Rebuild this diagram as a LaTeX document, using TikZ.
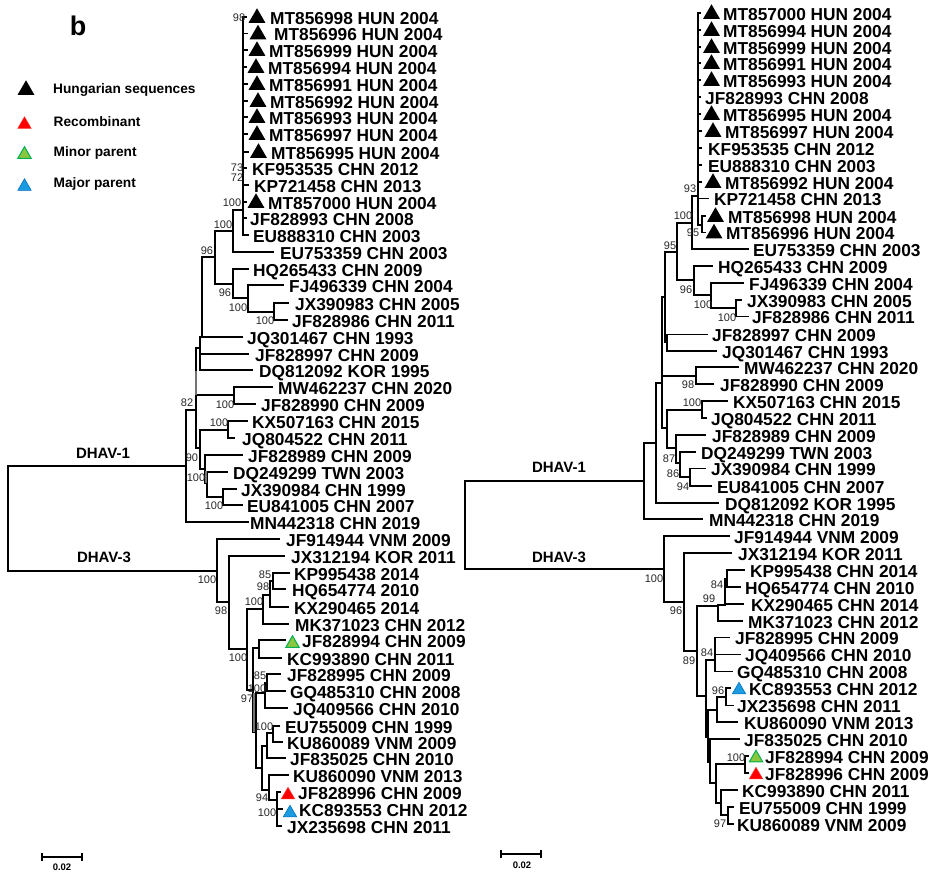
\documentclass[tikz,border=0pt]{standalone}
\usepackage{fontspec}
\setmainfont{Liberation Sans}
\usetikzlibrary{shapes.geometric}
\definecolor{triGreen}{HTML}{8CC63F}
\definecolor{triGreenB}{HTML}{00B050}
\definecolor{triBlue}{HTML}{1B9CE0}
\definecolor{triBlueB}{HTML}{0070C0}
\definecolor{bootc}{HTML}{282828}
\tikzset{
  branch/.style={draw=black,line width=1.3pt,line cap=rect},
  heavyseg/.style={draw=black,line width=2.6pt},
  greyseg/.style={draw=black!55,line width=2.8pt},
  leaf/.style={anchor=west,inner sep=0pt,text height=14.4pt,text depth=0pt,
    font=\bfseries\fontsize{17.3}{18}\selectfont},
  bootval/.style={inner sep=0pt,text=bootc,font=\fontsize{11}{12}\selectfont},
  clade/.style={inner sep=0pt,font=\bfseries\fontsize{15}{16}\selectfont},
  legendtxt/.style={anchor=west,inner sep=0pt,font=\bfseries\fontsize{13.7}{14}\selectfont},
  scaletxt/.style={inner sep=0pt,font=\bfseries\fontsize{9.5}{10}\selectfont},
  tribase/.style={regular polygon,regular polygon sides=3,inner sep=0pt},
  hun/.style={tribase,fill=black,minimum size=19.5pt},
  rec/.style={tribase,fill=red,draw=red!80!white,line width=.5pt,minimum size=15.5pt},
  minorp/.style={tribase,fill=triGreen,draw=triGreenB,line width=1pt,minimum size=15.5pt},
  majorp/.style={tribase,fill=triBlue,draw=triBlueB,line width=.6pt,minimum size=15.5pt},
}
% prefix, accession, tip x, line y, text x, rest of the label
\newcommand\leaf[6]{\node[leaf] (#1#2) at (#3,#4) {\hspace{\dimexpr#5pt-#3pt\relax}#2 #6};}
\newcommand\bs[3]{\node[bootval] (s#1x#2) at (#1,#2) {#3};}
\newcommand\tri[4]{\node[#1] (#2) at (#3,#4) {};}
\begin{document}
\begin{tikzpicture}[x=1pt,y=-1pt]
\useasboundingbox[fill=white] (0,0) rectangle (935,876);

% ---------- legend
\node[inner sep=0pt,font=\bfseries\fontsize{27}{28}\selectfont] (panel) at (78,26) {b};
\tri{hun}{lgA}{26}{90}
\tri{rec}{lgB}{24.5}{124.5}
\tri{minorp}{lgC}{24.5}{154.5}
\tri{majorp}{lgD}{24.5}{186.5}
\node[legendtxt] (lgtA) at (53,90) {Hungarian sequences};
\node[legendtxt] (lgtB) at (53.5,122) {Recombinant};
\node[legendtxt] (lgtC) at (53.5,153) {Minor parent};
\node[legendtxt] (lgtD) at (53.5,184) {Major parent};

% ---------- left tree: internal points
\foreach \n/\x/\y in {aR/8/520,a1/186/466,a3/217/571,a2/196/410,a4/200/348,a5/202/337,a6/215/257,
  a7/233/231,a8/233/284,a9/243/210,a10/248/298,a11/274/312,a12/234/395,a13/200/448,a14/228/430,
  a15/205/469,a16/207/483,a17/223/497,a20/229/602,a21/247/649,a22/263/609,a23/253/690,a24/270/595,
  a25/273/581,a26/259/648,a27/256/732,a28/265/693,a29/262/768,a30/267/683,a31/267/746,a32/269/790,
  a33/273/733,a34/277/800}
  \coordinate (\n) at (\x,\y);

% left tree: leaves
\leaf{a}{MT856998}{246}{17}{270}{HUN 2004}
\leaf{a}{MT856996}{247}{33.5}{274}{HUN 2004}
\leaf{a}{MT856999}{247}{50}{269}{HUN 2004}
\leaf{a}{MT856994}{246}{67}{268}{HUN 2004}
\leaf{a}{MT856991}{247}{84}{269}{HUN 2004}
\leaf{a}{MT856992}{247}{101}{270}{HUN 2004}
\leaf{a}{MT856993}{247}{117}{269}{HUN 2004}
\leaf{a}{MT856997}{247}{134}{269}{HUN 2004}
\leaf{a}{MT856995}{248}{152}{271}{HUN 2004}
\leaf{a}{KF953535}{246}{168}{252}{CHN 2012}
\leaf{a}{KP721458}{248}{185}{254}{CHN 2013}
\leaf{a}{MT857000}{246}{202}{268}{HUN 2004}
\leaf{a}{JF828993}{246}{218}{250}{CHN 2008}
\leaf{a}{EU888310}{248}{235}{253}{CHN 2003}
\leaf{a}{EU753359}{273}{252}{280}{CHN 2003}
\leaf{a}{HQ265433}{248}{269}{253}{CHN 2009}
\leaf{a}{FJ496339}{283}{285}{289}{CHN 2004}
\leaf{a}{JX390983}{288}{303}{295}{CHN 2005}
\leaf{a}{JF828986}{287}{320}{292}{CHN 2011}
\leaf{a}{JQ301467}{242}{337}{247}{CHN 1993}
\leaf{a}{JF828997}{248}{354}{255}{CHN 2009}
\leaf{a}{DQ812092}{252}{370}{259}{KOR 1995}
\leaf{a}{MW462237}{272}{387}{278}{CHN 2020}
\leaf{a}{JF828990}{255}{404}{261}{CHN 2009}
\leaf{a}{KX507163}{247}{421}{252}{CHN 2015}
\leaf{a}{JQ804522}{234}{438}{242}{CHN 2011}
\leaf{a}{JF828989}{242}{455}{248}{CHN 2009}
\leaf{a}{DQ249299}{227}{472}{233}{TWN 2003}
\leaf{a}{JX390984}{236}{489}{241}{CHN 1999}
\leaf{a}{EU841005}{242}{505}{247}{CHN 2007}
\leaf{a}{MN442318}{248}{522}{250}{CHN 2019}
\leaf{a}{JF914944}{279}{539}{286}{VNM 2009}
\leaf{a}{JX312194}{284}{556}{291}{KOR 2011}
\leaf{a}{KP995438}{289}{573}{294}{2014}
\leaf{a}{HQ654774}{285}{589}{292}{2010}
\leaf{a}{KX290465}{288}{607}{294}{2014}
\leaf{a}{MK371023}{288}{624}{295}{CHN 2012}
\leaf{a}{JF828994}{285}{640}{302}{CHN 2009}
\leaf{a}{KC993890}{281}{658}{287}{CHN 2011}
\leaf{a}{JF828995}{280}{674}{287}{CHN 2009}
\leaf{a}{GQ485310}{285}{691}{290}{CHN 2008}
\leaf{a}{JQ409566}{287}{708}{293}{CHN 2010}
\leaf{a}{EU755009}{279}{726}{285}{CHN 1999}
\leaf{a}{KU860089}{282}{742}{287}{VNM 2009}
\leaf{a}{JF835025}{285}{758}{290}{CHN 2010}
\leaf{a}{KU860090}{288}{775}{293}{VNM 2013}
\leaf{a}{JF828996}{280}{792}{298}{CHN 2009}
\leaf{a}{KC893553}{282}{809}{299}{CHN 2012}
\leaf{a}{JX235698}{281}{826}{287}{CHN 2011}

% left tree: triangles
\foreach \n/\x/\y in {998/257/18,996/258/34.5,999/257/51,994/256/68,991/257/85,992/258/102,993/257/118,997/257/135,995/258.5/153,700/256/203}
  \node[hun] (aT\n) at (\x,\y) {};
\tri{minorp}{aTg}{292.5}{643.5}
\tri{rec}{aTr}{288}{795}
\tri{majorp}{aTb}{290}{813}

% left tree: branches
\foreach \p/\c in {aR/a1,aR/a3,a1/a2,a1/aMN442318.west,a2/a4,a2/a12,a2/a13,a4/a5,a4/aJF828997.west,a4/aDQ812092.west,
  a5/a6,a5/aJQ301467.west,a6/a7,a6/a8,a7/a9,a7/aEU753359.west,
  a9/aMT856998.west,a9/aMT856996.west,a9/aMT856999.west,a9/aMT856994.west,a9/aMT856991.west,a9/aMT856992.west,
  a9/aMT856993.west,a9/aMT856997.west,a9/aMT856995.west,a9/aKF953535.west,a9/aKP721458.west,a9/aMT857000.west,
  a9/aJF828993.west,a9/aEU888310.west,
  a8/aHQ265433.west,a8/a10,a10/aFJ496339.west,a10/a11,a11/aJX390983.west,a11/aJF828986.west,
  a12/aMW462237.west,a12/aJF828990.west,a13/a14,a13/a15,a14/aKX507163.west,a14/aJQ804522.west,
  a15/aJF828989.west,a15/a16,a16/aDQ249299.west,a16/a17,a17/aJX390984.west,a17/aEU841005.west,
  a3/aJF914944.west,a3/a20,a20/aJX312194.west,a20/a21,a21/a22,a21/a23,a22/aMK371023.west,a22/a24,
  a24/aKX290465.west,a24/a25,a25/aKP995438.west,a25/aHQ654774.west,a23/a26,a23/a27,
  a26/aJF828994.west,a26/aKC993890.west,a27/a28,a27/a29,a28/a30,a28/aJQ409566.west,
  a30/aJF828995.west,a30/aGQ485310.west,a29/a31,a29/a32,a31/a33,a31/aJF835025.west,
  a33/aEU755009.west,a33/aKU860089.west,a32/aKU860090.west,a32/a34,
  a34/aJF828996.west,a34/aKC893553.west,a34/aJX235698.west}
  \draw[branch] (\p) |- (\c);
% short stretches where the tree's lines merge
\draw[heavyseg] (a5) -- ++(0,-41);
\draw[greyseg] (a2) ++(0,-15) -- ++(0,-24);
\draw[greyseg] (a16) ++(-1,0) -- ++(0,-12);
\draw[greyseg] (a23) ++(1,3) -- ++(0,39);

% left tree: clade names and support values
\node[clade] (aC1) at (103,453) {DHAV-1};
\node[clade] (aC3) at (104,557) {DHAV-3};
\bs{239}{18}{98}\bs{237}{168}{73}\bs{237}{178}{72}\bs{232}{203}{100}\bs{223}{225}{100}\bs{207}{251}{96}
\bs{225}{293}{96}\bs{238}{308}{100}\bs{265}{321}{100}\bs{187}{403}{82}\bs{225}{405}{100}\bs{219}{423}{100}
\bs{192}{458}{90}\bs{196}{478}{100}\bs{214}{506}{100}\bs{207}{580}{100}\bs{221}{611}{98}\bs{265}{575}{85}
\bs{263}{587}{98}\bs{254}{602}{100}\bs{238}{658}{100}\bs{260}{676}{85}\bs{257}{689}{100}\bs{247}{699}{97}
\bs{264}{727}{100}\bs{262}{798}{94}\bs{267}{813}{100}

% left scale bar
\coordinate (saA) at (42,857);
\coordinate (saB) at (82,857);
\draw[branch,line cap=butt] (saA) -- (saB);
\draw[branch,line cap=butt] ([yshift=-4pt]saA) -- ([yshift=4pt]saA);
\draw[branch,line cap=butt] ([yshift=-4pt]saB) -- ([yshift=4pt]saB);
\node[scaletxt] (saT) at (62,867) {0.02};

% ---------- right tree: internal points
\foreach \n/\x/\y in {bR/465/520,b1/644/481,b3/664/569,b2/656/443,b4/662/383,b5/665/297,b6/696/376,b7/667/428,
  b8/677/252,b9/667/342,b10/692/223,b11/694/280,b12/698/196,b13/702/225,b14/711/295,b15/736/308,b16/702/410,
  b17/676/448,b18/680/463,b19/690/477,b20/684/602,b21/697/651,b22/718/606,b23/706/696,b24/725/605,b25/727/579,
  b26/715/660,b27/708/737,b28/717/710,b29/710/762,b30/726/697,b31/716/783,b32/745/764,b33/721/803,b34/728/815}
  \coordinate (\n) at (\x,\y);

% right tree: leaves
\leaf{b}{MT857000}{700}{13}{723}{HUN 2004}
\leaf{b}{MT856994}{700}{30}{723}{HUN 2004}
\leaf{b}{MT856999}{700}{47}{723}{HUN 2004}
\leaf{b}{MT856991}{700}{63}{723}{HUN 2004}
\leaf{b}{MT856993}{700}{80}{723}{HUN 2004}
\leaf{b}{JF828993}{700}{97}{705}{CHN 2008}
\leaf{b}{MT856995}{700}{114}{723}{HUN 2004}
\leaf{b}{MT856997}{701}{131}{725}{HUN 2004}
\leaf{b}{KF953535}{701}{148}{708}{CHN 2012}
\leaf{b}{EU888310}{701}{165}{708}{CHN 2003}
\leaf{b}{MT856992}{701}{182}{725}{HUN 2004}
\leaf{b}{KP721458}{708}{198.5}{714}{CHN 2013}
\leaf{b}{MT856998}{705}{216}{728}{HUN 2004}
\leaf{b}{MT856996}{705}{232.5}{726}{HUN 2004}
\leaf{b}{EU753359}{748}{249}{753}{CHN 2003}
\leaf{b}{HQ265433}{712}{266}{718}{CHN 2009}
\leaf{b}{FJ496339}{743}{283}{749}{CHN 2004}
\leaf{b}{JX390983}{741}{300}{747}{CHN 2005}
\leaf{b}{JF828986}{748}{316.5}{752}{CHN 2011}
\leaf{b}{JF828997}{707}{334.5}{712}{CHN 2009}
\leaf{b}{JQ301467}{716}{351}{722}{CHN 1993}
\leaf{b}{MW462237}{738}{367}{744}{CHN 2020}
\leaf{b}{JF828990}{713}{384}{720}{CHN 2009}
\leaf{b}{KX507163}{727}{401}{733}{CHN 2015}
\leaf{b}{JQ804522}{706}{418}{711}{CHN 2011}
\leaf{b}{JF828989}{705}{435}{712}{CHN 2009}
\leaf{b}{DQ249299}{695}{452}{701}{TWN 2003}
\leaf{b}{JX390984}{705}{468.5}{711}{CHN 1999}
\leaf{b}{EU841005}{711}{486}{717}{CHN 2007}
\leaf{b}{DQ812092}{718}{503}{725}{KOR 1995}
\leaf{b}{MN442318}{702}{519}{709}{CHN 2019}
\leaf{b}{JF914944}{729}{536}{734}{VNM 2009}
\leaf{b}{JX312194}{731}{553}{738}{KOR 2011}
\leaf{b}{KP995438}{744}{570}{750}{CHN 2014}
\leaf{b}{HQ654774}{740}{587}{745}{CHN 2010}
\leaf{b}{KX290465}{743}{604}{751}{CHN 2014}
\leaf{b}{MK371023}{742}{621}{748}{CHN 2012}
\leaf{b}{JF828995}{729}{637.5}{735}{CHN 2009}
\leaf{b}{JQ409566}{740}{654.5}{745}{CHN 2010}
\leaf{b}{GQ485310}{732}{671.5}{737}{CHN 2008}
\leaf{b}{KC893553}{730}{688}{749}{CHN 2012}
\leaf{b}{JX235698}{733}{705.5}{737}{CHN 2011}
\leaf{b}{KU860090}{737}{722}{744}{VNM 2013}
\leaf{b}{JF835025}{739}{739}{744}{CHN 2010}
\leaf{b}{JF828994}{748}{756}{765}{CHN 2009}
\leaf{b}{JF828996}{748}{773}{765}{CHN 2009}
\leaf{b}{KC993890}{737}{790}{742}{CHN 2011}
\leaf{b}{EU755009}{733}{807}{739}{CHN 1999}
\leaf{b}{KU860089}{733}{824}{737}{VNM 2009}

% right tree: triangles
\foreach \n/\x/\y in {700/711.5/14,994/711.5/31,999/711.5/48,991/711.5/64,993/711.5/81,995/711.5/115,997/713/132,992/713/183,998/715.5/217,996/714/233.5}
  \node[hun] (bT\n) at (\x,\y) {};
\tri{majorp}{bTb}{739}{690}
\tri{minorp}{bTg}{756}{758}
\tri{rec}{bTr}{756}{775}

% right tree: branches
\foreach \p/\c in {bR/b1,bR/b3,b1/b2,b1/bMN442318.west,b2/b4,b2/bDQ812092.west,b4/b5,b4/b6,b4/b7,b5/b8,b5/b9,
  b9/bJF828997.west,b9/bJQ301467.west,b8/b10,b8/b11,b10/b12,b10/bEU753359.west,
  b12/bMT857000.west,b12/bMT856994.west,b12/bMT856999.west,b12/bMT856991.west,b12/bMT856993.west,b12/bJF828993.west,
  b12/bMT856995.west,b12/bMT856997.west,b12/bKF953535.west,b12/bEU888310.west,b12/bMT856992.west,b12/bKP721458.west,b12/b13,
  b13/bMT856998.west,b13/bMT856996.west,b11/bHQ265433.west,b11/b14,b14/bFJ496339.west,b14/b15,
  b15/bJX390983.west,b15/bJF828986.west,b6/bMW462237.west,b6/bJF828990.west,b7/b16,b7/b17,
  b16/bKX507163.west,b16/bJQ804522.west,b17/bJF828989.west,b17/b18,b18/bDQ249299.west,b18/b19,
  b19/bJX390984.west,b19/bEU841005.west,
  b3/bJF914944.west,b3/b20,b20/bJX312194.west,b20/b21,b21/b22,b21/b23,b22/bMK371023.west,b22/b24,
  b24/bKX290465.west,b24/b25,b25/bKP995438.west,b25/bHQ654774.west,b23/b26,b23/b27,
  b26/bJF828995.west,b26/bJQ409566.west,b26/bGQ485310.west,b27/b28,b27/b29,b28/b30,b28/bKU860090.west,
  b30/bKC893553.west,b30/bJX235698.west,b29/bJF835025.west,b29/b31,b31/b32,b31/b33,
  b32/bJF828994.west,b32/bJF828996.west,b33/bKC993890.west,b33/b34,b34/bEU755009.west,b34/bKU860089.west}
  \draw[branch] (\p) |- (\c);
% short stretches where the tree's lines merge
\draw[heavyseg] (b12) ++(0,4) -- ++(0,-36);
\draw[heavyseg] (b26) ++(0,-5) -- ++(0,-9);
\draw[heavyseg] (b27) ++(-1,0) -- ++(0,-28);

% right tree: clade names and support values
\node[clade] (bC1) at (559,467) {DHAV-1};
\node[clade] (bC3) at (559,557) {DHAV-3};
\bs{690}{189}{93}\bs{683}{216}{100}\bs{670}{246}{95}\bs{693}{233}{95}\bs{686}{290}{96}\bs{703}{305}{100}
\bs{727}{318}{100}\bs{688}{385}{98}\bs{692}{403}{100}\bs{669}{459}{87}\bs{673}{474}{86}\bs{683}{487}{94}
\bs{654}{579}{100}\bs{676}{611}{96}\bs{717}{585}{84}\bs{709}{599}{99}\bs{689}{661}{89}\bs{707}{653}{84}
\bs{718}{691}{96}\bs{736}{758}{100}\bs{720}{824}{97}

% right scale bar
\coordinate (sbA) at (501,854);
\coordinate (sbB) at (541,854);
\draw[branch,line cap=butt] (sbA) -- (sbB);
\draw[branch,line cap=butt] ([yshift=-4pt]sbA) -- ([yshift=4pt]sbA);
\draw[branch,line cap=butt] ([yshift=-4pt]sbB) -- ([yshift=4pt]sbB);
\node[scaletxt] (sbT) at (522,865) {0.02};
\end{tikzpicture}
\end{document}
